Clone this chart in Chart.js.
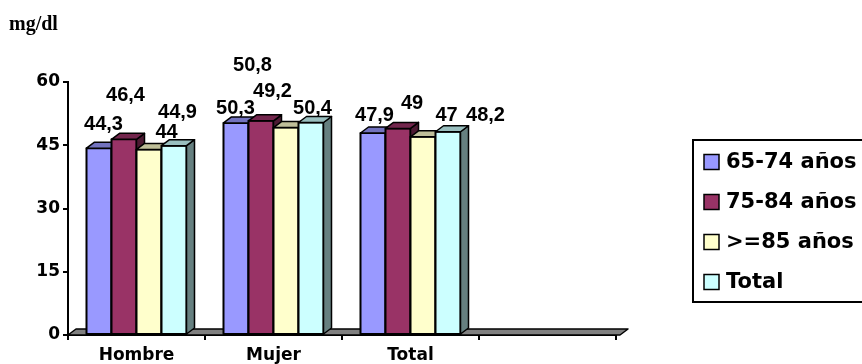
<!DOCTYPE html>
<html>
<head>
<meta charset="utf-8">
<script src="https://cdn.jsdelivr.net/npm/chart.js@4.4.1/dist/chart.umd.min.js"></script>
<style>
  html, body { margin: 0; padding: 0; background: #fff; overflow: hidden; }
</style>
</head>
<body>
<canvas id="hdl" width="862" height="364"></canvas>
<script>
const categories = ['Hombre', 'Mujer', 'Total', ''];
const seriesNames = ['65-74 años', '75-84 años', '>=85 años', 'Total'];
const age65to74 = [44.3, 50.3, 47.9];
const age75to84 = [46.4, 50.8, 49];
const age85plus = [44, 49.2, 47];
const allAges = [44.9, 50.4, 48.2];
const yTicks = [0, 15, 30, 45, 60];

const fills = ['#9999ff', '#993366', '#ffffcc', '#ccffff'];

// value label placement per series: [shift right, lift above bar top]
const labelNudge = [
  [[4.5, 18], [-0.5, 9], [1.5, 12]],
  [[1.5, 38], [-8.5, 50], [14, 19]],
  [[17.5, 11], [-13.5, 31], [23.5, 16]],
  [[3.5, 28], [1.5, 8.5], [37.5, 11]]
];

const DEPTH_X = 8;
const DEPTH_Y = 6;

function shade(hex, f) {
  const n = parseInt(hex.slice(1), 16);
  const r = Math.round(((n >> 16) & 255) * f);
  const g = Math.round(((n >> 8) & 255) * f);
  const b = Math.round((n & 255) * f);
  return `rgb(${r},${g},${b})`;
}

function poly(ctx, pts, fill) {
  ctx.beginPath();
  ctx.moveTo(pts[0][0], pts[0][1]);
  for (let i = 1; i < pts.length; i++) ctx.lineTo(pts[i][0], pts[i][1]);
  ctx.closePath();
  ctx.fillStyle = fill;
  ctx.fill();
  ctx.stroke();
}

// floor plus boxes drawn category by category so the depth faces overlap properly
const bars3d = {
  id: 'bars3d',
  beforeDatasetsDraw(chart) {
    const ctx = chart.ctx;
    const { left, right, bottom } = chart.chartArea;
    ctx.save();
    ctx.strokeStyle = '#000';
    ctx.lineWidth = 1.5;
    ctx.lineJoin = 'round';
    poly(ctx, [[left, bottom], [right + 4, bottom], [right + 4 + DEPTH_X, bottom - DEPTH_Y], [left + DEPTH_X, bottom - DEPTH_Y]], '#808080');

    const metas = chart.data.datasets.map((d, i) => chart.getDatasetMeta(i));
    for (let c = 0; c < categories.length; c++) {
      metas.forEach((meta, i) => {
        const bar = meta.data[c];
        if (!bar) return;
        const { x, y, base, width } = bar.getProps(['x', 'y', 'base', 'width'], true);
        const l = x - width / 2;
        const r = x + width / 2;
        bar.draw(ctx);
        ctx.lineWidth = 2;
        ctx.strokeRect(l, y, width, base - y);
        ctx.lineWidth = 1.5;
        poly(ctx, [[r, y], [r + DEPTH_X, y - DEPTH_Y], [r + DEPTH_X, base - DEPTH_Y], [r, base]], shade(fills[i], 0.5));
        poly(ctx, [[l, y], [r, y], [r + DEPTH_X, y - DEPTH_Y], [l + DEPTH_X, y - DEPTH_Y]], shade(fills[i], 0.75));
      });
    }
    ctx.restore();
    return false;
  },
  afterDraw(chart) {
    const ctx = chart.ctx;
    ctx.save();
    ctx.fillStyle = '#000';
    ctx.font = 'bold 20px "Liberation Sans", Arial, sans-serif';
    ctx.textAlign = 'center';
    ctx.textBaseline = 'alphabetic';
    chart.data.datasets.forEach((ds, i) => {
      chart.getDatasetMeta(i).data.forEach((bar, c) => {
        const v = ds.data[c];
        const [dx, lift] = labelNudge[i][c];
        ctx.fillText(String(v).replace('.', ','), bar.x + dx, bar.y - lift);
      });
    });
    ctx.restore();
  }
};

// boxed legend on the right, running off the edge
const boxedLegend = {
  id: 'boxedLegend',
  afterDraw(chart, args, opts) {
    const ctx = chart.ctx;
    ctx.save();
    ctx.strokeStyle = '#000';
    ctx.lineWidth = 2;
    ctx.beginPath();
    ctx.moveTo(chart.width + 5, opts.top);
    ctx.lineTo(opts.x, opts.top);
    ctx.lineTo(opts.x, opts.bottom);
    ctx.lineTo(chart.width + 5, opts.bottom);
    ctx.stroke();
    ctx.font = 'bold 21px "DejaVu Sans", sans-serif';
    ctx.textBaseline = 'middle';
    ctx.textAlign = 'left';
    chart.data.datasets.forEach((ds, i) => {
      const cy = opts.firstRow + i * opts.rowGap;
      ctx.fillStyle = ds.backgroundColor;
      ctx.fillRect(opts.x + 11, cy - 7.5, 15, 15);
      ctx.lineWidth = 1.5;
      ctx.strokeRect(opts.x + 11, cy - 7.5, 15, 15);
      ctx.fillStyle = '#000';
      ctx.fillText(ds.label, opts.x + 33, cy + 1);
    });
    ctx.restore();
  }
};

const tickFont = { family: '"DejaVu Sans", sans-serif', size: 17, weight: 'bold' };

new Chart(document.getElementById('hdl'), {
  type: 'bar',
  data: {
    labels: categories,
    datasets: [age65to74, age75to84, age85plus, allAges].map((vals, i) => ({
      label: seriesNames[i],
      data: vals,
      backgroundColor: fills[i],
      borderWidth: 0,
      barPercentage: 1,
      categoryPercentage: 0.73
    }))
  },
  plugins: [bars3d, boxedLegend],
  options: {
    responsive: false,
    animation: false,
    layout: { padding: { left: 9, right: 246, top: 0, bottom: 0 } },
    plugins: {
      legend: { display: false },
      tooltip: { enabled: false },
      title: {
        display: true,
        text: 'mg/dl',
        align: 'start',
        color: '#000',
        font: { family: '"Liberation Serif", serif', size: 20, weight: 'bold' },
        padding: { top: 13, bottom: 45 }
      },
      boxedLegend: { x: 693, top: 140, bottom: 302, firstRow: 162, rowGap: 40 }
    },
    scales: {
      x: {
        offset: true,
        grid: { display: true, drawOnChartArea: false, offset: true, tickLength: 5, color: '#000', lineWidth: 2 },
        border: { display: true, color: '#000', width: 2 },
        ticks: { color: '#000', font: tickFont, padding: 5, maxRotation: 0 },
        afterFit(scale) { scale.height = 29; }
      },
      y: {
        min: yTicks[0],
        max: yTicks[yTicks.length - 1],
        grid: { display: true, drawOnChartArea: false, tickLength: 5, color: '#000', lineWidth: 2 },
        border: { display: true, color: '#000', width: 2 },
        ticks: { color: '#000', font: tickFont, padding: 3, stepSize: yTicks[1] - yTicks[0] },
        afterFit(scale) { scale.width = 59; }
      }
    }
  }
});
</script>
</body>
</html>
